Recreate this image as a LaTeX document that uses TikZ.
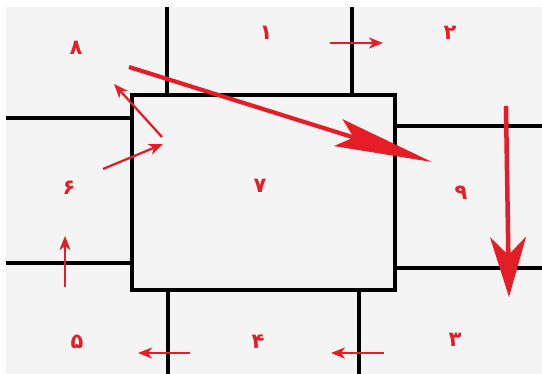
\documentclass[tikz,border=0pt]{standalone}
\usepackage{fontspec}
\newfontfamily\arabicfont[Script=Arabic]{DejaVu Sans}
\usetikzlibrary{arrows.meta}
\definecolor{bggray}{RGB}{244,244,244}
\definecolor{redA}{RGB}{228,30,38}
\tikzset{
  wall/.style={line width=3.4pt, black},
  room/.style={draw=black, line width=3.4pt, fill=bggray, minimum width=263pt, minimum height=195pt, inner sep=0pt},
  num/.style={text=redA, font=\arabicfont\bfseries\fontsize{21}{21}\selectfont, inner sep=0pt},
  smallarrow/.style={draw=redA, line width=2.3pt, -{Stealth[length=14pt,width=11pt,inset=4pt]}},
  bigarrow/.style={draw=redA, line width=4.2pt, -{Stealth[length=98pt,width=28pt,inset=16pt]}},
  bigarrowb/.style={draw=redA, line width=4.5pt, -{Stealth[length=60pt,width=36pt,inset=18pt]}}
}
\begin{document}
\begin{tikzpicture}[x=1pt,y=-1pt]
\useasboundingbox (0,0) rectangle (542,374);
\fill[white] (0,0) rectangle (542,374);
\fill[bggray] (6,7) rectangle (542,374);
% central room
\node[room] (c) at (263.5,192.5) {};
% wall end points
\coordinate (t1) at (167,7);   \coordinate (t1b) at (167,95);
\coordinate (t2) at (352,7);   \coordinate (t2b) at (352,95);
\coordinate (l1) at (6,118);   \coordinate (l1b) at (132,118);
\coordinate (l2) at (6,263);   \coordinate (l2b) at (132,263);
\coordinate (r1) at (542,126); \coordinate (r1b) at (395,126);
\coordinate (r2) at (542,268); \coordinate (r2b) at (395,268);
\coordinate (b1) at (168,374); \coordinate (b1b) at (168,290);
\coordinate (b2) at (359,374); \coordinate (b2b) at (359,290);
\draw[wall] (t1) -- (t1b);
\draw[wall] (t2) -- (t2b);
\draw[wall] (l1) -- (l1b);
\draw[wall] (l2) -- (l2b);
\draw[wall] (r1) -- (r1b);
\draw[wall] (r2) -- (r2b);
\draw[wall] (b1) -- (b1b);
\draw[wall] (b2) -- (b2b);
% labels
\node[num] (n1) at (266,33) {۱};
\node[num] (n2) at (450,33) {۲};
\node[num] (n3) at (455,340) {۳};
\node[num] (n4) at (258,342) {۴};
\node[num] (n5) at (77,342) {۵};
\node[num] (n6) at (69,188) {۶};
\node[num] (n7) at (260,186) {۷};
\node[num] (n8) at (76,48) {۸};
\node[num] (n9) at (461,193) {۹};
% arrow end points
\coordinate (a1s) at (330,43);  \coordinate (a1e) at (383,43);
\coordinate (a2s) at (129,67);  \coordinate (a2e) at (432,162);
\coordinate (a3s) at (506,106); \coordinate (a3e) at (509,297);
\coordinate (a4s) at (162,137); \coordinate (a4e) at (114,84);
\coordinate (a5s) at (103,169); \coordinate (a5e) at (163,144);
\coordinate (a6s) at (65,287);  \coordinate (a6e) at (65,236);
\coordinate (a7s) at (190,353); \coordinate (a7e) at (138,353);
\coordinate (a8s) at (384,353); \coordinate (a8e) at (331,353);
\draw[smallarrow] (a1s) -- (a1e);
\draw[bigarrow] (a2s) -- (a2e);
\draw[bigarrowb] (a3s) -- (a3e);
\draw[smallarrow] (a4s) -- (a4e);
\draw[smallarrow] (a5s) -- (a5e);
\draw[smallarrow] (a6s) -- (a6e);
\draw[smallarrow] (a7s) -- (a7e);
\draw[smallarrow] (a8s) -- (a8e);
\end{tikzpicture}
\end{document}
